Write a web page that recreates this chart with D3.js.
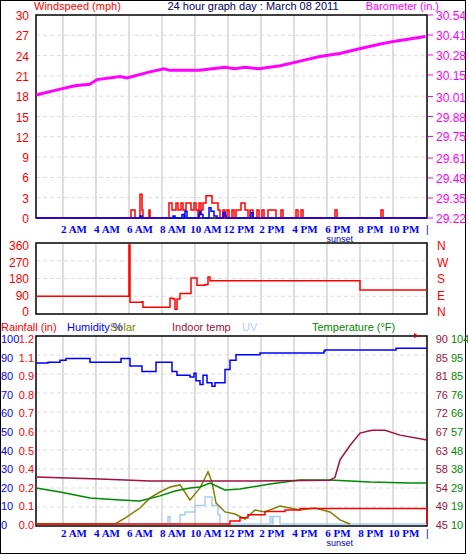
<!DOCTYPE html>
<html><head><meta charset="utf-8">
<script src="https://cdn.jsdelivr.net/npm/d3@7"></script>
<style>body{margin:0;background:#fff}text{font-family:"Liberation Sans",Arial,sans-serif}</style>
</head><body><div id="chart"></div>
<script>
// hour of day -> value
var baroHours = [-0.3,0.85,2.05,2.95,3.4,4.8,5.2,6.6,7.45,7.8,9.6,11.15,11.75,12.35,13.2,14.5,15.7,16.9,18.1,19.3,20.5,21.45,23.3];
var baroVals = [30.02,30.05,30.08,30.09,30.12,30.14,30.13,30.17,30.19,30.18,30.18,30.20,30.19,30.20,30.19,30.21,30.24,30.27,30.29,30.32,30.35,30.37,30.40];

// the series below are keyed by their position along the time axis (pixels of the original)
var gustPx = [36,131,135,140,142,143,149,150,169,172,176,178,181,183,186,191,194,196,198,199,201,203,206,212,216,218,220,223,225,227,229,232,234,236,241,245,248,250,253,257,259,262,264,268,276,281,283,296,298,301,303,335,337,381,383,427];
var gustVals = [0,1.2,0,3.5,1.2,0,1.2,0,2.2,1.2,2.2,1.2,2.2,1.2,2.2,1.2,2.2,1.2,0,2.2,1.2,2.2,3.3,2.2,2.2,1.2,0,1.2,0,1.2,0,1.2,0,1.2,2.2,1.2,0,1.2,0,1.2,0,1.2,0,1.2,0,1.2,0,1.2,0,1.2,0,1.2,0,1.2,0,0];
var windPx = [36,140,142,173,175,182,184,185,187,199,200,201,203,209,211,212,214,215,217,223,225,226,251,253,254,427];
var windVals = [0,0.3,0,0.3,0,0.5,0,1,0,0.5,1,0.5,0,1.5,1,1,0.3,0.3,0,0.8,0.3,0,0.8,0,0,0];

var dirPx = [36,129,130,142,143,168,170,173,175,177,180,190,191,196,197,205,208,210,212,360,427];
var dirVals = [80,360,48,50,20,20,70,65,10,65,95,95,180,180,140,145,185,165,165,115,115];

var humPx = [36,48,60,66,80,90,110,121,130,142,150,156,170,172,177,190,194,196,200,203,207,212,215,220,225,230,236,240,260,270,324,325,395,396,427];
var humVals = [86.5,87,88,89,89,87,87,89,85,82,82,87,87,82,80,79,81,77,75,80,76,74,76,76,83,88,91,91,92,92,93,93.5,93.5,94.5,94.5];
var inPx = [36,100,150,250,330,335,340,350,360,372,385,400,427];
var inVals = [56.4,55.9,55.4,55.4,55.6,56.3,60.5,64,67,67.7,67.7,66.5,65.3];
var tempPx = [36,60,90,120,140,160,175,190,200,210,225,240,270,300,330,370,410,427];
var tempVals = [28.2,26.2,23.1,22.1,21.6,24.2,26.7,28.2,28.7,30.7,27.2,27.7,30.2,32.2,32.2,31.2,30.7,30.7];
var solarPx = [36,115,125,140,150,160,170,180,190,200,206,208,212,216,225,235,245,255,265,280,290,300,315,330,340,350];
var solarVals = [0,0,32,86,140,172,199,210,129,194,258,280,226,113,65,54,27,75,65,97,86,75,86,65,22,0];
var uvPx = [36,168,170,180,185,195,205,212,218,220,270,272,273,280,427];
var uvVals = [0,0.4,0,0.5,0.65,1.0,1.45,1.0,0.5,0,0.4,0,0.4,0,0];
var rainPx = [36,230,240,248,265,285,300,427];
var rainVals = [0,0.02,0.04,0.06,0.08,0.09,0.10,0];

var hourLabels = ["2 AM","4 AM","6 AM","8 AM","10 AM","12 PM","2 PM","4 PM","6 PM","8 PM","10 PM"];
var windTicks = [0,3,6,9,12,15,18,21,24,27,30];
var baroTicks = ["29.22","29.35","29.48","29.61","29.75","29.88","30.01","30.15","30.28","30.41","30.54"];
var dirTicks = [0,90,180,270,360];
var dirNames = ["N","E","S","W","N"];
var humTicks = [0,10,20,30,40,50,60,70,80,90,100];
var rainTicks = ["0.0","0.1","0.2","0.4","0.5","0.6","0.7","0.8","0.9","1.1","1.2"];
var inTicks = ["45","49","54","58","63","67","72","76","81","85","90"];
var tempTicks = ["10","19","29","38","48","57","66","76","85","95","104"];

var L = 36, R = 427;
var x = d3.scaleLinear().domain([0, 24]).range([41, 437]);
var px = d3.scaleLinear().domain([41, 437]).range([0, 24]);
var svg = d3.select("#chart").append("svg").attr("width", 468).attr("height", 559);
svg.append("rect").attr("x", 0.5).attr("y", 0.5).attr("width", 465).attr("height", 553)
  .attr("fill", "none").attr("stroke", "#000");

function panel(top, bottom, nGrid) {
  var g = svg.append("g");
  d3.range(nGrid + 1).forEach(function (i) {
    var yy = top + (bottom - top) * i / nGrid;
    if (i > 0 && i < nGrid) g.append("line").attr("x1", L).attr("x2", R).attr("y1", yy).attr("y2", yy)
      .attr("stroke", "#ddd").attr("stroke-dasharray", "4,3");
  });
  d3.range(11).forEach(function (k) {
    var xx = x(1.33 + 2 * k);
    g.append("line").attr("x1", xx).attr("x2", xx).attr("y1", top).attr("y2", bottom)
      .attr("stroke", "#ddd").attr("stroke-width", 2);
  });
  g.append("rect").attr("x", L).attr("y", top).attr("width", R - L).attr("height", bottom - top)
    .attr("fill", "none").attr("stroke", "#000").attr("stroke-width", 1.5);
  return g;
}
function hourAxis(yy) {
  hourLabels.forEach(function (t, i) {
    svg.append("text").attr("x", x(2 + 2 * i)).attr("y", yy).attr("text-anchor", "middle")
      .attr("fill", "#00f").attr("font-weight", "bold").style("font-family", "Liberation Serif")
      .attr("font-size", 11).text(t);
  });
  svg.append("text").attr("x", 426).attr("y", yy).attr("fill", "#00f").attr("font-size", 10).text("|");
  svg.append("text").attr("x", x(18.1)).attr("y", yy + 9).attr("text-anchor", "middle")
    .attr("fill", "#00a").attr("font-size", 9).text("sunset");
}
function path(g, xs, vs, yScale, color, w, curve) {
  var data = xs.map(function (p, i) { return [px(p), vs[i]]; });
  g.append("path").datum(data).attr("fill", "none").attr("stroke", color).attr("stroke-width", w || 1.5)
    .attr("d", d3.line().x(function (d) { return Math.max(L, Math.min(R, x(d[0]))); })
      .y(function (d) { return yScale(d[1]); }).curve(curve || d3.curveStepAfter));
}

// ---- panel 1 ----
var yW = d3.scaleLinear().domain([0, 30]).range([218, 15]);
var yB = d3.scaleLinear().domain([29.22, 30.54]).range([218, 15]);
var g1 = panel(15, 218, 10);
path(g1, gustPx, gustVals, yW, "#f00", 1.5);
path(g1, windPx, windVals, yW, "#00f", 1.5);
g1.append("path").datum(baroHours.map(function (h, i) { return [h, baroVals[i]]; }))
  .attr("fill", "none").attr("stroke", "#f0f").attr("stroke-width", 3)
  .attr("d", d3.line().x(function (d) { return Math.max(L, x(d[0])); }).y(function (d) { return yB(d[1]); }));
windTicks.forEach(function (t) {
  svg.append("text").attr("x", 29).attr("y", yW(t) + 5).attr("text-anchor", "end").attr("fill", "#f00").attr("font-size", 12).text(t);
});
baroTicks.forEach(function (t) {
  svg.append("line").attr("x1", 428).attr("x2", 433).attr("y1", yB(+t)).attr("y2", yB(+t)).attr("stroke", "#f0f");
  svg.append("text").attr("x", 436).attr("y", yB(+t) + 5).attr("fill", "#f0f").attr("font-size", 12).text(t);
});
svg.append("text").attr("x", 34).attr("y", 10).attr("fill", "#f00").attr("font-size", 11).text("Windspeed (mph)");
svg.append("text").attr("x", 253).attr("y", 10).attr("text-anchor", "middle").attr("fill", "#006").attr("font-size", 11).text("24 hour graph day : March 08 2011");
svg.append("text").attr("x", 439).attr("y", 10).attr("text-anchor", "end").attr("fill", "#f0f").attr("font-size", 11).text("Barometer (in.)");
hourAxis(233);

// ---- panel 2 ----
var yD = d3.scaleLinear().domain([0, 360]).range([311, 245]);
var g2 = panel(243, 314, 4);
path(g2, dirPx, dirVals, yD, "#f00", 1.5);
dirTicks.forEach(function (t, i) {
  svg.append("text").attr("x", 29).attr("y", yD(t) + 5).attr("text-anchor", "end").attr("fill", "#f00").attr("font-size", 12).text(t);
  svg.append("text").attr("x", 437).attr("y", yD(t) + 5).attr("fill", "#f00").attr("font-size", 12).text(dirNames[i]);
});

// ---- panel 3 ----
var top3 = 336, bot3 = 524;
var yH = d3.scaleLinear().domain([0, 100]).range([bot3, top3 + 2]);
var yR = d3.scaleLinear().domain([0, 1.2]).range([bot3, top3 + 2]);
var yI = d3.scaleLinear().domain([45, 90]).range([bot3, top3 + 2]);
var yT = d3.scaleLinear().domain([10, 104]).range([bot3, top3 + 2]);
var yS = d3.scaleLinear().domain([0, 1000]).range([bot3, top3 + 2]);
var yU = d3.scaleLinear().domain([0, 10]).range([bot3, top3 + 2]);
var g3 = panel(top3, bot3 + 2, 10);
path(g3, uvPx, uvVals, yU, "#aaccf0", 1.5);
path(g3, solarPx, solarVals, yS, "#808000", 1.5, d3.curveLinear);
path(g3, tempPx, tempVals, yT, "#080", 1.5, d3.curveLinear);
path(g3, inPx, inVals, yI, "#a01040", 1.5, d3.curveLinear);
path(g3, rainPx, rainVals, yR, "#f00", 1.5);
path(g3, humPx, humVals, yH, "#00f", 1.5);
humTicks.forEach(function (t, i) {
  var yy = yH(t) + 5;
  svg.append("text").attr("x", 1).attr("y", yy).attr("fill", "#00f").attr("font-size", 11).text(t);
  svg.append("text").attr("x", 34).attr("y", yy).attr("text-anchor", "end").attr("fill", "#f00").attr("font-size", 11).text(rainTicks[i]);
  svg.append("text").attr("x", 448).attr("y", yy).attr("text-anchor", "end").attr("fill", "#a01040").attr("font-size", 11).text(inTicks[i]);
  svg.append("text").attr("x", 451).attr("y", yy).attr("fill", "#080").attr("font-size", 11).attr("textLength", t.length > 2 ? 15 : null).text(tempTicks[i]);
});
svg.append("path").attr("d", "M414,333 L419,336 L414,338 Z").attr("fill", "#c00");
[["Rainfall (in)", 1, "#f00"], ["Humidity %", 67, "#00f"], ["Solar", 110, "#808000"],
 ["Indoor temp", 172, "#a01040"], ["UV", 242, "#b0d0f0"], ["Temperature (°F)", 312, "#080"]]
  .forEach(function (d) {
    svg.append("text").attr("x", d[1]).attr("y", 331).attr("fill", d[2]).attr("font-size", 11).text(d[0]);
  });
hourAxis(537);
</script></body></html>
